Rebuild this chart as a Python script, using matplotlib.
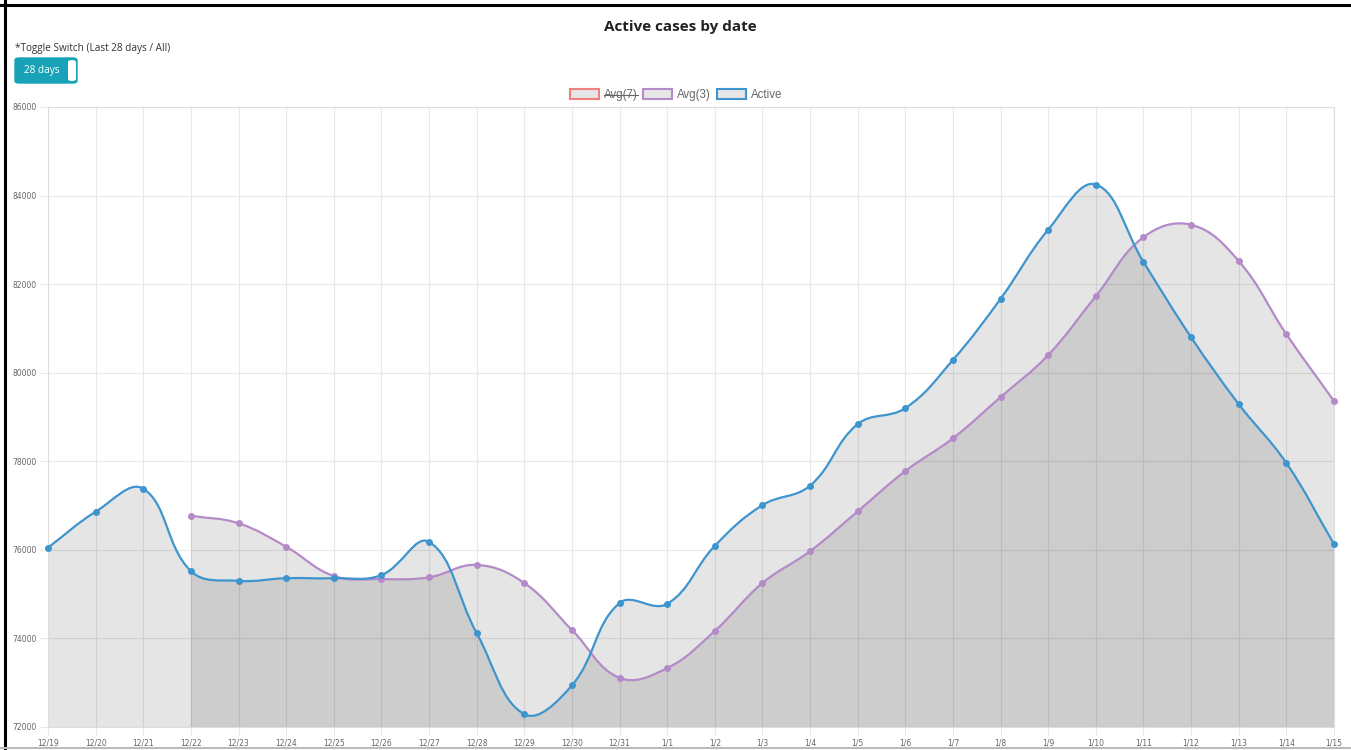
import numpy as np
import matplotlib.pyplot as plt
from matplotlib.path import Path
from matplotlib.patches import PathPatch, Patch, FancyBboxPatch
from matplotlib.lines import Line2D

W, H = 1351, 750

dates = ['12/19', '12/20', '12/21', '12/22', '12/23', '12/24', '12/25', '12/26',
         '12/27', '12/28', '12/29', '12/30', '12/31', '1/1', '1/2', '1/3', '1/4',
         '1/5', '1/6', '1/7', '1/8', '1/9', '1/10', '1/11', '1/12', '1/13',
         '1/14', '1/15']
active = [76050, 76860, 77380, 75520, 75300, 75360, 75360, 75430, 76180, 74120,
          72290, 72940, 74800, 74780, 76090, 77010, 77450, 78840, 79200, 80290,
          81670, 83230, 84250, 82500, 80800, 79290, 77960, 76130]
avg3_start = 3  # Avg(3) begins at 12/22
avg3 = [76770, 76600, 76070, 75410, 75340, 75380, 75660, 75250, 74190, 73110,
        73330, 74170, 75250, 75970, 76870, 77780, 78520, 79450, 80400, 81730,
        83060, 83340, 82520, 80870, 79360]

blue = '#3e95cd'
purple = '#b48ac8'
red = '#f07f7f'
fill = (0, 0, 0, 0.1)
grid = '#e8e8e8'
txt = '#666666'

fig = plt.figure(figsize=(W / 100, H / 100), dpi=100)
ax = fig.add_axes([48 / W, 23 / H, (1334 - 48) / W, (727 - 107) / H])
ax.set_xlim(0, len(dates) - 1)
ax.set_ylim(72000, 86000)


def spline(xs, ys, t=0.4):
    # chart.js style bezier with tension 0.4, computed in pixel space
    pts = ax.transData.transform(np.column_stack([xs, ys]))
    n = len(pts)
    cps = []
    for i in range(n):
        prev = pts[max(i - 1, 0)]
        cur = pts[i]
        nxt = pts[min(i + 1, n - 1)]
        d01 = np.hypot(*(cur - prev))
        d12 = np.hypot(*(nxt - cur))
        tot = d01 + d12
        s01 = d01 / tot if tot else 0
        s12 = d12 / tot if tot else 0
        cps.append((cur - t * s01 * (nxt - prev), cur + t * s12 * (nxt - prev)))
    verts = [pts[0]]
    codes = [Path.MOVETO]
    for i in range(n - 1):
        verts += [cps[i][1], cps[i + 1][0], pts[i + 1]]
        codes += [Path.CURVE4] * 3
    verts = ax.transData.inverted().transform(np.array(verts))
    return verts, codes


def draw_series(xs, ys, color):
    verts, codes = spline(xs, ys)
    base = ax.get_ylim()[0]
    fv = np.vstack([verts, [[xs[-1], base], [xs[0], base], [xs[0], base]]])
    fc = codes + [Path.LINETO, Path.LINETO, Path.CLOSEPOLY]
    ax.add_patch(PathPatch(Path(fv, fc), facecolor=fill, edgecolor='none', zorder=1))
    ax.add_patch(PathPatch(Path(verts, codes), facecolor='none', edgecolor=color,
                           lw=1.6, zorder=3))
    ax.plot(xs, ys, 'o', color=color, ms=4, zorder=4, clip_on=False)


x = np.arange(len(dates))
draw_series(x[avg3_start:], avg3, purple)
draw_series(x, active, blue)

ax.set_xticks(x)
ax.set_xticklabels(dates)
ax.set_yticks(np.arange(72000, 86001, 2000))
ax.grid(True, color=grid, lw=0.8, zorder=0)
ax.set_axisbelow(True)
ax.tick_params(length=6, color=grid, labelcolor=txt, labelsize=5.5, pad=2)
for s in ax.spines.values():
    s.set_color('#dddddd')
    s.set_linewidth(0.8)

# legend
handles = [Patch(facecolor='#e6e6e6', edgecolor=red, lw=1.5, label='Avg(7)'),
           Patch(facecolor='#e6e6e6', edgecolor=purple, lw=1.5, label='Avg(3)'),
           Patch(facecolor='#e6e6e6', edgecolor=blue, lw=1.5, label='Active')]
leg = fig.legend(handles=handles, loc='center', bbox_to_anchor=(676 / W, 1 - 95 / H),
                 ncol=3, frameon=False, handlelength=2.5,
                 handleheight=0.95, handletextpad=0.45, columnspacing=0.5,
                 prop={'family': 'Liberation Sans', 'size': 8.3})
for t in leg.get_texts():
    t.set_color(txt)

fig.text(680 / W, 1 - 27 / H, 'Active cases by date', ha='center', va='center',
         fontsize=11, fontweight='bold', color='#222222', family='Open Sans')
fig.text(15 / W, 1 - 49 / H, '*Toggle Switch (Last 28 days / All)', ha='left',
         va='center', fontsize=7.2, color='#333333', family='Open Sans')

# toggle switch
fig.patches.append(FancyBboxPatch((15 / W, 1 - 83 / H), 62 / W, 25 / H,
                                  boxstyle='round,pad=0,rounding_size=0.003',
                                  facecolor='#17a2b8', edgecolor='#17a2b8',
                                  transform=fig.transFigure, figure=fig))
fig.patches.append(FancyBboxPatch((68 / W, 1 - 81 / H), 8 / W, 21 / H,
                                  boxstyle='round,pad=0,rounding_size=0.003',
                                  facecolor='white', edgecolor='none',
                                  transform=fig.transFigure, figure=fig))
fig.text(42 / W, 1 - 71 / H, '28 days', ha='center', va='center', fontsize=7.2,
         color='white', family='Open Sans')

# page frame
fig.add_artist(Line2D([5 / W, 5 / W], [0, 1], color='black', lw=2.2,
                      transform=fig.transFigure))
fig.add_artist(Line2D([0, 1], [1 - 5 / H, 1 - 5 / H], color='black', lw=2.2,
                      transform=fig.transFigure))
fig.add_artist(Line2D([0, 1], [1 - 748 / H, 1 - 748 / H], color='#bbbbbb', lw=1.5,
                      transform=fig.transFigure))

# strikethrough for hidden dataset
fig.canvas.draw()
bb = leg.get_texts()[0].get_window_extent().transformed(fig.transFigure.inverted())
ym = (bb.y0 + bb.y1) / 2
fig.add_artist(Line2D([bb.x0, bb.x1], [ym, ym], color=txt, lw=0.8,
                      transform=fig.transFigure))

fig.savefig('out.png', dpi=100)
